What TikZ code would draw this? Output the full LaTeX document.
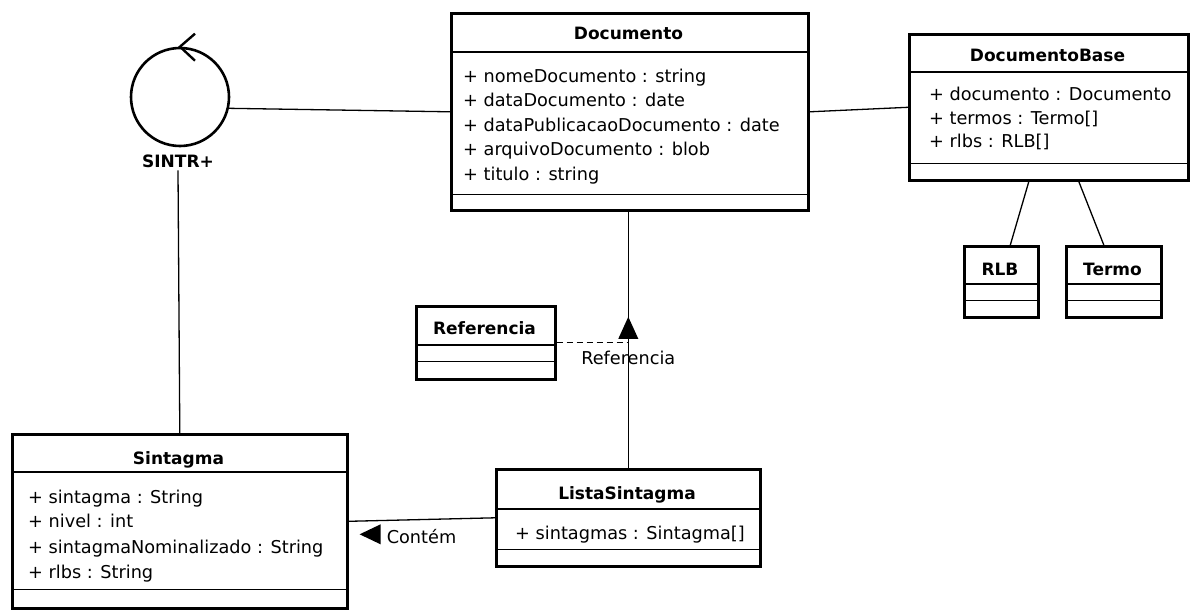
\documentclass[tikz,border=0pt]{standalone}
\usepackage{fontspec}
\setmainfont{DejaVu Sans}
\usepackage{tikz}
\usetikzlibrary{arrows.meta,positioning,calc}

\begin{document}
\begin{tikzpicture}[x=1pt,y=-1pt,
  box/.style={draw,line width=2.6pt,anchor=north west,inner sep=0pt},
  cname/.style={anchor=base,inner sep=0pt,font=\fontsize{17}{20}\selectfont\bfseries},
  attr/.style={anchor=base west,inner sep=0pt,font=\fontsize{17.7}{20}\selectfont},
  sep/.style={line width=1.2pt},
  assoc/.style={line width=1.3pt}]
  \useasboundingbox (0,0) rectangle (1190,610);
  % クラスの枠
  \node[box,minimum width=357,minimum height=197] (doc) at (450,12) {};
  \node[box,minimum width=279,minimum height=146] (base) at (908,33) {};
  \node[box,minimum width=74,minimum height=71] (rlb) at (963,245) {};
  \node[box,minimum width=95,minimum height=71] (termo) at (1065,245) {};
  \node[box,minimum width=139,minimum height=73] (ref) at (415,305) {};
  \node[box,minimum width=335,minimum height=174] (sint) at (11,433) {};
  \node[box,minimum width=264,minimum height=97] (lista) at (495,468) {};
  % 区切り線
  \draw[sep] ([yshift=-40pt]doc.north west) -- ([yshift=-40pt]doc.north east);
  \draw[sep] ([yshift=17pt]doc.south west) -- ([yshift=17pt]doc.south east);
  \draw[sep] ([yshift=-39pt]base.north west) -- ([yshift=-39pt]base.north east);
  \draw[sep] ([yshift=18pt]base.south west) -- ([yshift=18pt]base.south east);
  \draw[sep] ([yshift=-39pt]rlb.north west) -- ([yshift=-39pt]rlb.north east);
  \draw[sep] ([yshift=18pt]rlb.south west) -- ([yshift=18pt]rlb.south east);
  \draw[sep] ([yshift=-39pt]termo.north west) -- ([yshift=-39pt]termo.north east);
  \draw[sep] ([yshift=18pt]termo.south west) -- ([yshift=18pt]termo.south east);
  \draw[sep] ([yshift=-40pt]ref.north west) -- ([yshift=-40pt]ref.north east);
  \draw[sep] ([yshift=19pt]ref.south west) -- ([yshift=19pt]ref.south east);
  \draw[sep] ([yshift=-39pt]sint.north west) -- ([yshift=-39pt]sint.north east);
  \draw[sep] ([yshift=20pt]sint.south west) -- ([yshift=20pt]sint.south east);
  \draw[sep] ([yshift=-41pt]lista.north west) -- ([yshift=-41pt]lista.north east);
  \draw[sep] ([yshift=18pt]lista.south west) -- ([yshift=18pt]lista.south east);
  % クラス名
  \node[cname] (docname) at (628.5,39.5) {Documento};
  \node[cname] (basename) at (1047.5,61.5) {DocumentoBase};
  \node[cname] (rlbname) at (1000,275) {RLB};
  \node[cname] (termoname) at (1112.5,275) {Termo};
  \node[cname] (refname) at (484.5,334) {Referencia};
  \node[cname] (sintname) at (178.5,464) {Sintagma};
  \node[cname] (listaname) at (627,499) {ListaSintagma};
  % 属性
  \node[attr] (doc1) at (463,82) {+ nomeDocumento : string};
  \node[attr] (doc2) at (463,106.5) {+ dataDocumento : date};
  \node[attr] (doc3) at (463,131) {+ dataPublicacaoDocumento : date};
  \node[attr] (doc4) at (463,155.5) {+ arquivoDocumento : blob};
  \node[attr] (doc5) at (463,180) {+ titulo : string};
  \node[attr] (base1) at (929,100) {+ documento : Documento};
  \node[attr] (base2) at (929,124) {+ termos : Termo[]};
  \node[attr] (base3) at (929,147) {+ rlbs : RLB[]};
  \node[attr] (sint1) at (28,503) {+ sintagma : String};
  \node[attr] (sint2) at (28,527) {+ nivel : int};
  \node[attr] (sint3) at (28,553) {+ sintagmaNominalizado : String};
  \node[attr] (sint4) at (28,578) {+ rlbs : String};
  \node[attr] (lista1) at (515,539) {+ sintagmas : Sintagma[]};
  % SINTR+
  \node[draw,circle,line width=2.6pt,minimum size=98pt,inner sep=0pt] (sintr) at (180,97) {};
  \draw[line width=2.4pt] ([shift={(15,-13)}]sintr.north) -- (sintr.north) -- ([shift={(15,14)}]sintr.north);
  \node[cname,inner sep=3pt] (sintrname) at (178,167) {SINTR+};
  % 関連
  \draw[assoc] (sintr.-13) -- (doc.west);
  \draw[assoc] (sintrname.south) -- (sint.north);
  \draw[assoc] (doc.east) -- (base.west);
  \draw[assoc] ([xshift=-20pt]base.south) -- ([xshift=9pt]rlb.north);
  \draw[assoc] ([xshift=30pt]base.south) -- ([xshift=-10pt]termo.north);
  \draw[assoc] (lista.north) -- (lista.north |- doc.south);
  \draw[assoc] (sint.east) -- (lista.west);
  \coordinate (mid) at ($(lista.north |- doc.south)!0.5!(lista.north)$);
  \draw[assoc,dash pattern=on 6pt off 4pt] (ref.east) -- (ref.east -| mid); % 関連クラス
  \fill ([shift={(-10,-1)}]mid) -- ([shift={(10,-1)}]mid) -- ([shift={(0,-23)}]mid) -- cycle;
  \node[attr,anchor=base] (reflabel) at ([yshift=-24.5pt]mid) {Referencia};
  \node[attr] (contem) at ([xshift=38pt,yshift=-22pt]sint.east) {Contém};
  \fill (contem.base west) ++(-6,-19) -- ++(0,20) -- ++(-21,-10) -- cycle;
\end{tikzpicture}
\end{document}
